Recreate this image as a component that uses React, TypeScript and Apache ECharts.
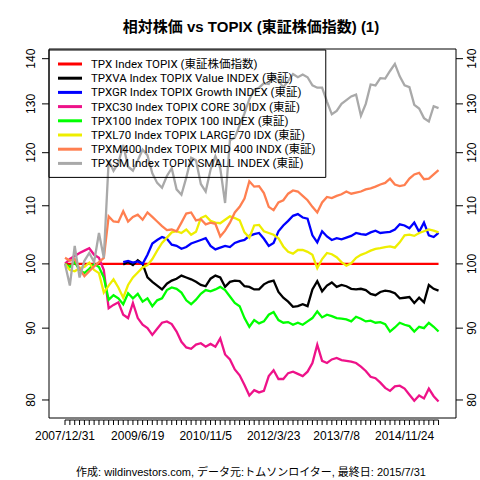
import React, { useEffect, useRef } from "react";
import * as echarts from "echarts";

const FONT = '"Liberation Sans", Arial, "Noto Sans CJK JP", sans-serif';
const LEGEND_FONT = 'Roboto, "Liberation Sans", "Noto Sans CJK JP", sans-serif';

const seriesNames = [
  "TPX Index TOPIX (東証株価指数)",
  "TPXVA Index TOPIX Value INDEX (東証)",
  "TPXGR Index TOPIX Growth INDEX (東証)",
  "TPXC30 Index TOPIX CORE 30 IDX (東証)",
  "TPX100 Index TOPIX 100 INDEX (東証)",
  "TPXL70 Index TOPIX LARGE 70 IDX (東証)",
  "TPXM400 Index TOPIX MID 400 INDX (東証)",
  "TPXSM Index TOPIX SMALL INDEX (東証)",
];
const seriesColors = ["#FF0000", "#000000", "#0000FF", "#EE1289", "#00FF00", "#EEEE00", "#FF7F50", "#A9A9A9"];

const xLabelTicks = [0, 15, 29, 43, 56, 70];
const xLabels = ["2007/12/31", "2009/6/19", "2010/11/5", "2012/3/23", "2013/7/8", "2014/11/24"];
const yTicks = [80, 90, 100, 110, 120, 130, 140];

const tpx = [
  100, 100, 100, 100, 100, 100, 100, 100, 100, 100, 100, 100, 100, 100, 100, 100, 100, 100, 100, 100,
  100, 100, 100, 100, 100, 100, 100, 100, 100, 100, 100, 100, 100, 100, 100, 100, 100, 100, 100, 100,
  100, 100, 100, 100, 100, 100, 100, 100, 100, 100, 100, 100, 100, 100, 100, 100, 100, 100, 100, 100,
  100, 100, 100, 100, 100, 100, 100, 100, 100, 100, 100, 100, 100, 100, 100, 100, 100, 100,
];
const tpxva = [
  null, null, null, null, null, null, null, null, null, null, null, null, 99.9,
  100.3, 99.8, 100.6, 100.0, 97.8, 97.1, 96.5, 95.9, 96.8, 97.3, 97.6, 98.1, 97.8, 97.5, 97.1, 96.6, 96.4,
  97.6, 98.1, 97.8, 96.3, 97.1, 97.3, 97.2, 96.4, 96.3, 95.9, 95.9, 96.7, 97.1, 97.3, 95.5, 94.6, 94.0,
  93.2, 93.3, 93.6, 93.3, 95.9, 97.2, 95.6, 96.5, 97.0, 96.3, 96.6, 96.4, 96.0, 95.9, 96.0, 95.8, 95.2,
  95.0, 95.5, 95.7, 95.6, 95.3, 94.5, 94.6, 94.7, 93.8, 94.6, 93.9, 96.6, 96.0, 95.7,
];
const tpxgr = [
  null, null, null, null, null, null, null, null, null, null, null, null, 100.3,
  100.5, 100.2, 100.4, 100.0, 101.5, 103.4, 104.0, 104.5, 104.2, 103.2, 103.0, 102.5, 102.8, 103.4, 103.7,
  104.0, 104.3, 103.0, 102.4, 102.7, 103.0, 102.8, 103.5, 103.8, 104.0, 104.7, 105.0, 105.2, 104.2, 103.0,
  103.5, 105.5, 106.5, 107.3, 108.2, 108.5, 107.9, 107.7, 104.8, 103.6, 105.5, 104.6, 104.0, 104.3, 104.1,
  104.4, 104.7, 105.2, 105.0, 104.9, 105.3, 105.6, 105.2, 105.3, 105.4, 105.8, 106.7, 106.5, 106.0, 107.0,
  105.4, 107.0, 104.8, 104.5, 105.2,
];
const tpxc30 = [
  100.0, 100.8, 101.3, 101.8, 102.2, 102.6, 101.5, 101.0, 99.0, 93.0,
  93.5, 93.9, 92.0, 91.5, 93.8, 91.5, 90.5, 90.0, 89.0, 89.9,
  90.8, 91.0, 90.6, 89.5, 88.0, 87.2, 87.0, 87.6, 87.8, 87.3,
  87.7, 87.3, 88.5, 86.2, 85.5, 84.1, 83.3, 82.0, 80.6, 81.3,
  81.0, 81.2, 83.2, 84.0, 82.8, 82.8, 83.6, 83.8, 83.5, 83.2,
  83.8, 85.0, 87.6, 85.3, 85.0, 85.5, 85.7, 85.4, 85.3, 85.2,
  85.0, 84.5, 83.9, 83.1, 82.9, 82.3, 81.6, 81.2, 81.8, 81.9,
  81.5, 80.7, 79.9, 80.6, 80.2, 81.5, 80.5, 79.8,
];
const tpx100 = [
  100.0, 99.5, 100.3, 99.0, 98.5, 99.2, 100.0, 99.5, 97.8, 94.3,
  95.0, 94.5, 93.6, 95.3, 94.5, 95.2, 94.0, 94.5, 93.3, 94.2,
  94.5, 95.8, 96.2, 96.0, 95.4, 94.2, 93.6, 94.3, 95.2, 95.8,
  95.6, 95.9, 96.3, 95.8, 94.8, 93.8, 93.3, 91.5, 90.2, 91.2,
  90.7, 91.0, 92.0, 92.4, 91.2, 90.8, 90.9, 90.5, 90.8, 90.5,
  91.0, 91.5, 92.5, 91.6, 92.0, 91.8, 91.5, 91.4, 91.3, 91.0,
  91.7, 91.4, 91.0, 91.1, 90.8, 90.9, 90.6, 89.5, 90.1, 90.8,
  90.5, 90.3, 89.5, 90.2, 90.0, 90.8, 90.2, 89.5,
];
const tpxl70 = [
  100.0, 99.0, 98.8, 99.3, 99.5, 100.2, 99.0, 98.5, 95.4, 96.5,
  97.5, 96.2, 94.6, 96.6, 97.8, 98.6, 99.4, 99.8, 100.8, 102.2,
  103.5, 104.4, 105.3, 105.5, 105.2, 105.8, 104.9, 105.4, 107.8, 108.2,
  107.3, 107.0, 106.9, 107.5, 108.1, 107.8, 107.4, 105.3, 104.4, 106.5,
  106.6, 105.5, 105.2, 104.9, 104.3, 102.9, 102.0, 101.7, 102.3, 102.3,
  102.0, 101.5, 99.3, 100.8, 101.8, 101.6, 101.1, 100.3, 99.7, 100.1,
  101.0, 101.5, 101.8, 102.2, 102.5, 102.6, 102.8, 102.9, 102.7, 103.6,
  104.8, 104.9, 104.7, 105.2, 105.5, 105.8, 105.6, 105.3,
];
const tpxm400 = [
  101.0, 100.5, 100.8, 99.2, 98.0, 98.8, 99.6, 100.3, 101.0, 108.1,
  107.2, 107.1, 109.0, 107.2, 108.0, 108.4, 107.5, 108.8, 108.0, 107.2,
  106.4, 105.7, 105.8, 105.5, 107.0, 108.6, 108.8, 107.4, 107.6, 106.7,
  107.0, 106.8, 104.6, 105.6, 107.0, 108.8, 109.8, 111.3, 114.5, 113.5,
  113.6, 112.3, 109.8, 109.2, 110.6, 111.0, 112.2, 112.8, 112.6, 111.8,
  111.0, 109.8, 108.8, 110.6, 111.6, 111.4, 111.8, 112.1, 112.6, 112.2,
  112.4, 112.6, 113.0, 113.2, 113.5, 113.9, 114.2, 115.0, 113.9, 113.6,
  113.8, 115.0, 115.8, 116.1, 114.9, 115.0, 115.8, 116.6,
];
const tpxsm = [
  100.0, 96.5, 103.0, 97.8, 100.5, 101.8, 100.3, 105.2, 101.0, 118.5,
  116.5, 118.0, 121.5, 117.3, 116.5, 118.5, 120.6, 119.5, 116.0, 114.2,
  113.3, 115.5, 117.0, 113.0, 112.0, 115.2, 119.0, 118.5, 114.0, 112.6,
  116.7, 119.3, 117.0, 110.5, 122.5, 123.0, 125.5, 128.0, 131.0, 133.0,
  133.5, 134.5, 134.3, 136.2, 135.0, 133.6, 135.0, 136.5, 135.8, 136.4,
  135.8, 134.0, 133.5, 133.5, 130.5, 127.8, 128.5, 130.0, 130.8, 131.6,
  132.0, 127.5, 130.0, 134.2, 134.0, 135.6, 135.5, 137.2, 138.8, 136.0,
  134.0, 133.6, 129.8, 129.0, 127.0, 126.3, 129.5, 129.1,
];

const allValues = [tpx, tpxva, tpxgr, tpxc30, tpx100, tpxl70, tpxm400, tpxsm];

export default function App() {
  const ref = useRef<HTMLDivElement>(null);
  useEffect(() => {
    if (!ref.current) return;
    const chart = echarts.init(ref.current, null, { renderer: "svg" });
    const idx = tpx.map((_, i) => i);
    const lineSeries = allValues.map((vals, s) => ({
      type: "line",
      name: seriesNames[s],
      data: vals.flatMap((v, i) => (v == null ? [] : [[i, v]])),
      symbol: "none",
      showSymbol: false,
      color: seriesColors[s],
      lineStyle: { width: 2.3, color: seriesColors[s], join: "miter" },
      emphasis: { disabled: true },
      silent: true,
      z: 2,
    }));
    const yTickSeries = {
      type: "custom",
      name: "yticks",
      silent: true,
      clip: false,
      z: 5,
      data: yTicks.map((v) => [0, v]),
      encode: { x: 0, y: 1 },
      renderItem: (params: any, api: any) => {
        const cs = params.coordSys;
        const v = api.value(1);
        const y = api.coord([0, v])[1];
        const l = cs.x;
        const r = cs.x + cs.width;
        const ts = {
          text: String(v),
          fill: "#000",
          fontSize: 12,
          fontFamily: FONT,
          align: "center",
          verticalAlign: "middle",
          textAlign: "center",
          textVerticalAlign: "middle",
        };
        return {
          type: "group",
          children: [
            { type: "line", shape: { x1: l - 7, y1: y, x2: l, y2: y }, style: { stroke: "#000", lineWidth: 1 } },
            { type: "line", shape: { x1: r, y1: y, x2: r + 7, y2: y }, style: { stroke: "#000", lineWidth: 1 } },
            { type: "text", x: l - 18, y, rotation: Math.PI / 2, style: ts },
            { type: "text", x: r + 16, y, rotation: Math.PI / 2, style: ts },
          ],
        };
      },
    };
    const xTickSeries = {
      type: "custom",
      name: "xticks",
      silent: true,
      clip: false,
      z: 5,
      data: idx.map((i) => [i, 100]),
      encode: { x: 0, y: 1 },
      renderItem: (params: any, api: any) => {
        const cs = params.coordSys;
        const i = api.value(0);
        const x = api.coord([i, 100])[0];
        const b = cs.y + cs.height;
        const children: any[] = [
          { type: "line", shape: { x1: x, y1: b + 2, x2: x, y2: b + 7 }, style: { stroke: "#000", lineWidth: 1 } },
        ];
        if (i < idx.length - 1) {
          const xn = api.coord([i + 1, 100])[0];
          children.push({ type: "line", shape: { x1: x, y1: b + 2, x2: xn, y2: b + 2 }, style: { stroke: "#000", lineWidth: 1 } });
        }
        const li = xLabelTicks.indexOf(i);
        if (li >= 0) {
          children.push({
            type: "text",
            x,
            y: b + 18,
            style: {
              text: xLabels[li],
              fill: "#000",
              fontSize: 12,
              fontFamily: FONT,
              align: "center",
              verticalAlign: "middle",
              textAlign: "center",
              textVerticalAlign: "middle",
            },
          });
        }
        return { type: "group", children };
      },
    };
    chart.setOption({
      animation: false,
      backgroundColor: "#fff",
      title: [
        {
          text: "相対株価 vs TOPIX (東証株価指数) (1)",
          left: 251,
          top: 19,
          padding: 0,
          textAlign: "center",
          textStyle: { fontSize: 15, fontWeight: "bold", color: "#000", fontFamily: FONT },
        },
        {
          text: "作成: wildinvestors.com, データ元:トムソンロイター, 最終日: 2015/7/31",
          left: 251,
          top: 466,
          padding: 0,
          textAlign: "center",
          textStyle: { fontSize: 11, fontWeight: "normal", color: "#000", fontFamily: FONT },
        },
      ],
      legend: {
        data: seriesNames,
        orient: "vertical",
        left: 49,
        top: 50,
        icon: "rect",
        itemWidth: 24,
        itemHeight: 3,
        itemGap: 2.2,
        padding: [8, 10, 8, 9],
        borderColor: "#000",
        borderWidth: 1,
        borderRadius: 0,
        backgroundColor: "transparent",
        selectedMode: false,
        textStyle: { fontSize: 11.5, color: "#000", fontFamily: LEGEND_FONT, lineHeight: 12, padding: [0, 0, 0, 4] },
      },
      grid: {
        left: 49,
        top: 49,
        right: 24,
        bottom: 62,
        show: true,
        borderColor: "#000",
        borderWidth: 1,
        backgroundColor: "transparent",
      },
      xAxis: {
        type: "value",
        min: -3.3,
        max: 80.6,
        axisLine: { show: false },
        axisTick: { show: false },
        axisLabel: { show: false },
        splitLine: { show: false },
      },
      yAxis: {
        type: "log",
        logBase: 10,
        min: 77.67,
        max: 142.24,
        axisLine: { show: false },
        axisTick: { show: false },
        axisLabel: { show: false },
        splitLine: { show: false },
        minorTick: { show: false },
        minorSplitLine: { show: false },
      },
      series: [...lineSeries, yTickSeries, xTickSeries],
    });
    return () => chart.dispose();
  }, []);
  return (
    <div
      ref={ref}
      style={{ position: "fixed", left: 0, top: 0, width: 480, height: 480, background: "#fff" }}
    />
  );
}
